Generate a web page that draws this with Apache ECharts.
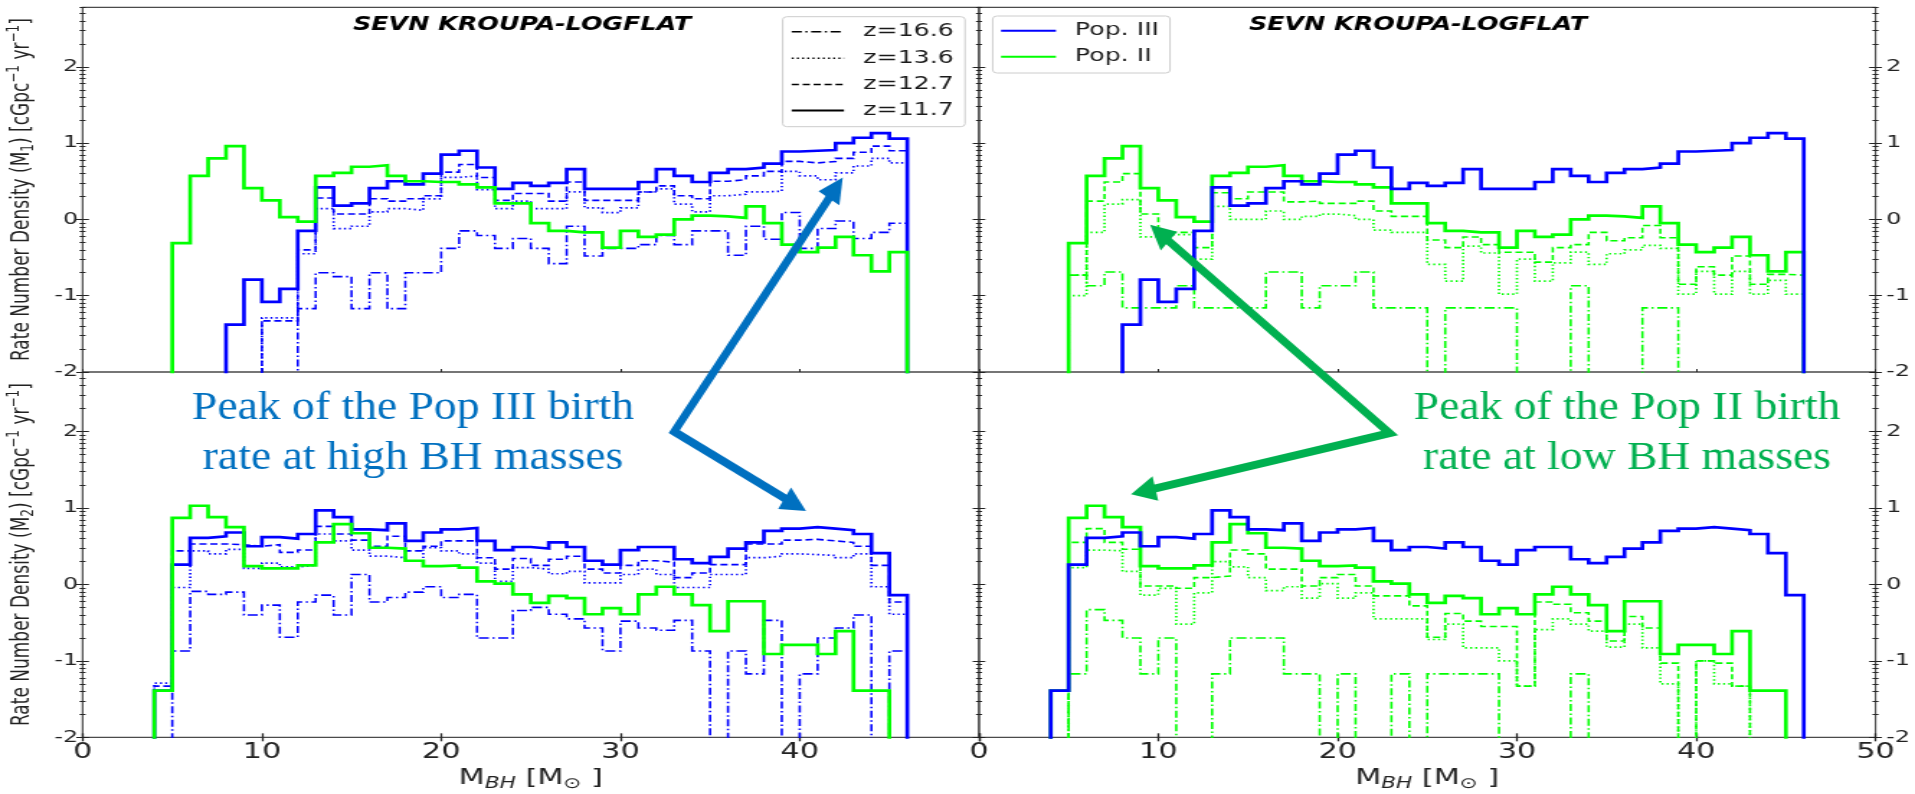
<!DOCTYPE html>
<html>
<head>
<meta charset="utf-8">
<title>SEVN KROUPA-LOGFLAT birth-rate histograms</title>
<script src="https://cdn.jsdelivr.net/npm/echarts@6.0.0/dist/echarts.min.js"></script>
<style>
  html, body { margin: 0; padding: 0; background: #fff; overflow: hidden; }
  #chart { width: 1330px; height: 794px; transform-origin: 0 0; }
</style>
</head>
<body>
<div id="chart"></div>
<script>
// ---------------------------------------------------------------------------
// Data: log10 rate number density per 1 Msun bin, bins [4,5) ... [45,46).
// null = empty bin (log10 of zero, the step drops below the axis floor).
// Rows of eight: bins 4-11, 12-19, 20-27, 28-35, 36-43, 44-45.
// ---------------------------------------------------------------------------
const BIN_EDGES = [4, 5, 6, 7, 8, 9, 10, 11, 12, 13, 14, 15, 16, 17, 18, 19, 20, 21, 22, 23, 24,
  25, 26, 27, 28, 29, 30, 31, 32, 33, 34, 35, 36, 37, 38, 39, 40, 41, 42, 43, 44, 45, 46];

const REDSHIFTS = ['z=16.6', 'z=13.6', 'z=12.7', 'z=11.7'];
const POPULATIONS = ['Pop. III', 'Pop. II'];
const PANEL_TITLE = 'SEVN KROUPA-LOGFLAT';
const X_LABELS_LEFT = [0, 10, 20, 30, 40];
const X_LABELS_RIGHT = [0, 10, 20, 30, 40, 50];
const Y_LABELS = [-2, -1, 0, 1, 2];
const Y_MIN = -2, Y_MAX = 2.78, X_MIN = 0, X_MAX = 50;

// Primary-mass (M1) distributions
const POP3_M1_Z166 = [
  null, null, null, null, null, null, null, null,
  -1.17, -0.70, -0.75, -1.17, -0.70, -1.17, -0.70, -0.70,
  -0.38, -0.15, -0.21, -0.38, -0.25, -0.38, -0.58, -0.09,
  -0.48, -0.38, -0.38, -0.33, -0.21, -0.33, -0.15, -0.15,
  -0.47, -0.09, -0.26, 0.09, -0.38, -0.12, -0.02, -0.25,
  -0.17, -0.05];
const POP3_M1_Z136 = [
  null, null, null, null, null, null, -1.29, -1.29,
  -0.45, 0.14, -0.12, -0.09, 0.10, 0.14, 0.12, 0.27,
  0.55, 0.57, 0.39, 0.14, 0.24, 0.14, 0.14, 0.36,
  0.15, 0.09, 0.15, 0.36, 0.40, 0.20, 0.10, 0.31,
  0.33, 0.36, 0.37, 0.63, 0.57, 0.52, 0.61, 0.70,
  0.80, 0.74];
const POP3_M1_Z127 = [
  null, null, null, null, null, null, -1.33, -1.33,
  -0.40, 0.28, 0.07, 0.07, 0.27, 0.24, 0.27, 0.31,
  0.62, 0.72, 0.55, 0.25, 0.34, 0.34, 0.24, 0.49,
  0.25, 0.25, 0.25, 0.36, 0.44, 0.31, 0.27, 0.50,
  0.52, 0.57, 0.63, 0.76, 0.74, 0.76, 0.80, 0.88,
  0.96, 0.90];
const POP3_M1_Z117 = [
  null, null, null, null, -1.38, -0.79, -1.08, -0.91,
  -0.15, 0.42, 0.18, 0.21, 0.41, 0.50, 0.46, 0.60,
  0.85, 0.90, 0.68, 0.40, 0.48, 0.44, 0.48, 0.66,
  0.40, 0.40, 0.40, 0.49, 0.66, 0.57, 0.49, 0.61,
  0.66, 0.68, 0.73, 0.89, 0.90, 0.91, 1.00, 1.07,
  1.13, 1.06];
const POP2_M1_Z166 = [
  null, -0.73, -0.87, -0.69, -1.16, -1.16, -1.16, -0.87,
  -1.16, -1.16, -1.16, -1.16, -0.69, -0.69, -1.16, -0.87,
  -0.87, -0.69, -1.16, -1.16, -1.16, null, -1.16, -1.16,
  -1.16, -1.16, null, null, null, -0.87, null, null,
  null, -1.16, -1.16, null, null, null, null, null,
  null, null];
const POP2_M1_Z136 = [
  null, -1.00, -0.17, 0.20, 0.26, -0.23, -0.20, -0.20,
  -0.52, 0.17, 0.00, 0.00, 0.11, 0.00, 0.04, 0.07,
  0.05, 0.00, -0.14, -0.17, -0.17, -0.59, -0.81, -0.35,
  -0.44, -0.98, -0.52, -0.81, -0.57, -0.43, -0.59, -0.45,
  -0.40, -0.34, -0.38, -0.98, -0.68, -0.98, -0.68, -0.98,
  -0.80, -0.98];
const POP2_M1_Z127 = [
  null, -0.73, 0.24, 0.49, 0.60, 0.07, -0.17, -0.17,
  -0.37, 0.35, 0.27, 0.36, 0.36, 0.23, 0.24, 0.21,
  0.21, 0.24, 0.11, 0.04, 0.04, -0.27, -0.37, -0.23,
  -0.33, -0.43, -0.43, -0.56, -0.37, -0.33, -0.17, -0.28,
  -0.24, -0.08, -0.24, -0.85, -0.62, -0.73, -0.48, -0.85,
  -0.72, -0.73];
const POP2_M1_Z117 = [
  null, -0.31, 0.57, 0.80, 0.96, 0.41, 0.25, 0.03,
  -0.03, 0.57, 0.61, 0.69, 0.71, 0.57, 0.50, 0.49,
  0.49, 0.46, 0.42, 0.21, 0.21, -0.05, -0.15, -0.17,
  -0.17, -0.37, -0.15, -0.23, -0.20, 0.00, 0.05, 0.04,
  0.02, 0.17, -0.05, -0.33, -0.43, -0.37, -0.23, -0.47,
  -0.68, -0.43];

// Secondary-mass (M2) distributions
const POP3_M2_Z166 = [
  null, -0.87, -0.09, -0.13, -0.10, -0.40, -0.27, -0.69,
  -0.23, -0.14, -0.40, 0.13, -0.23, -0.17, -0.10, -0.03,
  -0.17, -0.13, -0.70, -0.70, -0.34, -0.30, -0.39, -0.45,
  -0.57, -0.87, -0.48, -0.57, -0.60, -0.47, -0.87, null,
  -0.87, -1.17, -0.47, null, -1.17, -0.70, -0.57, -0.40,
  null, -0.87];
const POP3_M2_Z136 = [
  -1.29, -0.04, 0.44, 0.40, 0.46, 0.21, 0.28, 0.23,
  0.25, 0.66, 0.57, 0.45, 0.37, 0.35, 0.31, 0.48,
  0.44, 0.40, 0.28, 0.04, 0.22, 0.20, 0.14, 0.17,
  0.02, 0.02, 0.13, 0.20, 0.13, -0.04, -0.04, 0.13,
  0.13, 0.35, 0.37, 0.40, 0.39, 0.38, 0.35, 0.40,
  -0.03, -0.39];
const POP3_M2_Z127 = [
  -1.33, 0.44, 0.53, 0.53, 0.52, 0.50, 0.52, 0.42,
  0.45, 0.76, 0.66, 0.58, 0.50, 0.63, 0.44, 0.50,
  0.57, 0.57, 0.35, 0.20, 0.34, 0.25, 0.33, 0.37,
  0.20, 0.15, 0.25, 0.31, 0.29, 0.09, 0.15, 0.26,
  0.26, 0.53, 0.53, 0.58, 0.59, 0.57, 0.55, 0.50,
  0.25, -0.23];
const POP3_M2_Z117 = [
  -1.39, 0.26, 0.61, 0.63, 0.68, 0.50, 0.62, 0.60,
  0.66, 0.97, 0.88, 0.72, 0.71, 0.80, 0.57, 0.68,
  0.72, 0.74, 0.57, 0.45, 0.49, 0.47, 0.55, 0.49,
  0.31, 0.26, 0.45, 0.49, 0.49, 0.33, 0.28, 0.36,
  0.47, 0.55, 0.70, 0.73, 0.75, 0.73, 0.71, 0.66,
  0.41, -0.14];
const POP2_M2_Z166 = [
  null, -1.17, -0.33, -0.47, -0.70, -1.17, -0.70, null,
  null, -1.17, -0.70, -0.70, -0.70, -1.17, -1.17, null,
  -1.17, null, null, -1.17, null, -1.17, -1.17, -1.17,
  -1.17, null, null, null, null, -1.17, null, null,
  null, null, null, null, null, null, null, null,
  null, null];
const POP2_M2_Z136 = [
  null, 0.22, 0.45, 0.44, 0.17, -0.14, -0.05, -0.52,
  -0.11, 0.30, 0.23, 0.09, -0.08, -0.03, -0.18, 0.01,
  -0.18, -0.11, -0.45, -0.45, -0.45, -0.72, -0.52, -0.83,
  -0.83, -1.00, -1.33, -0.59, -0.45, -0.52, -0.61, -0.82,
  -0.52, -0.83, -1.30, null, -1.00, -1.30, -1.33, null,
  null, null];
const POP2_M2_Z127 = [
  null, 0.55, 0.73, 0.55, 0.46, -0.02, -0.02, -0.05,
  0.09, 0.11, 0.45, 0.40, 0.20, 0.20, -0.02, 0.09,
  0.13, -0.02, -0.15, -0.15, -0.28, -0.69, -0.38, -0.48,
  -0.55, -0.55, -1.33, -0.23, -0.26, -0.37, -0.48, -0.74,
  -0.42, -0.57, -1.03, null, -1.00, -1.03, -1.33, null,
  null, null];
const POP2_M2_Z117 = [
  -1.39, 0.87, 1.03, 0.88, 0.75, 0.24, 0.21, 0.21,
  0.25, 0.55, 0.79, 0.67, 0.48, 0.47, 0.31, 0.24,
  0.25, 0.22, 0.04, 0.01, -0.13, -0.24, -0.15, -0.18,
  -0.39, -0.31, -0.39, -0.13, -0.03, -0.13, -0.27, -0.61,
  -0.22, -0.22, -0.91, -0.79, -0.79, -0.91, -0.61, -1.39,
  -1.39, null];

// Annotation anchors in data coordinates (panel index, [mass, log rate])
const ARROW_POP3 = { elbow: { panel: 2, at: [33.0, 2.0] },
  tips: [{ panel: 0, at: [42.4, 0.55] }, { panel: 2, at: [40.35, 0.96] }] };
const ARROW_POP2 = { elbow: { panel: 3, at: [22.9, 1.98] },
  tips: [{ panel: 1, at: [9.54, -0.07] }, { panel: 3, at: [8.48, 1.18] }] };
const NOTE_POP3 = ['Peak of the Pop III birth', 'rate at high BH masses'];
const NOTE_POP2 = ['Peak of the Pop II birth', 'rate at low BH masses'];

// ---------------------------------------------------------------------------
// Layout and style
// ---------------------------------------------------------------------------
const CANVAS_W = 1330, CANVAS_H = 794;
const S = 1915 / CANVAS_W;              // the figure is drawn horizontally stretched
const px = v => v / S;                  // page x -> canvas x
document.getElementById('chart').style.transform = 'scaleX(' + S + ')';

const PANEL_X = [82.6, 979, 1875.5];    // page pixels
const PANEL_Y = [7.3, 372, 737.3];
const FONT = 'DejaVu Sans';
const INK = '#222222';
const SPINE = '#4a4a4a';
const BLUE = '#0000ff', LIME = '#00ff00';
const NOTE_BLUE = '#0070C0', NOTE_GREEN = '#00B050';

const Z_STYLE = {
  'z=16.6': { type: [7, 2.5, 1.5, 2.5], width: 1.6 },
  'z=13.6': { type: [1.4, 2.2], width: 1.7 },
  'z=12.7': { type: [5, 2.6], width: 1.6 },
  'z=11.7': { type: 'solid', width: 2.7 }
};

// y ticks: integer majors plus logarithmic minors
const MINOR_Y = [];
for (let n = -2; n <= 2; n++) {
  for (let k = 2; k <= 9; k++) {
    const v = n + Math.log10(k);
    if (v < Y_MAX) MINOR_Y.push(+v.toFixed(4));
  }
}

const grids = [];
for (let r = 0; r < 2; r++) {
  for (let c = 0; c < 2; c++) {
    grids.push({
      left: px(PANEL_X[c]), width: px(PANEL_X[c + 1]) - px(PANEL_X[c]),
      top: PANEL_Y[r], height: PANEL_Y[r + 1] - PANEL_Y[r],
      show: true, borderColor: SPINE, borderWidth: 1.2, backgroundColor: 'transparent',
      containLabel: false, outerBoundsMode: 'none'
    });
  }
}

const xAxes = [], yAxes = [], X_MAIN = [], Y_MAIN = [];
const tickStyle = (values, inside, length) => ({
  show: true, inside, length, customValues: values, lineStyle: { color: INK, width: 1 }
});
function addY(g, position, extra) {
  yAxes.push(Object.assign({
    type: 'value', gridIndex: g, position, min: Y_MIN, max: Y_MAX, interval: 1,
    axisLine: { show: false, onZero: false }, splitLine: { show: false },
    axisLabel: { show: false }, axisTick: { show: false }
  }, extra));
  return yAxes.length - 1;
}
function addX(g, extra) {
  xAxes.push(Object.assign({
    type: 'value', gridIndex: g, position: 'bottom', min: X_MIN, max: X_MAX, interval: 10,
    axisLine: { show: false, onZero: false }, splitLine: { show: false },
    axisLabel: { show: false }, axisTick: { show: false }
  }, extra));
  return xAxes.length - 1;
}

const yName = n => '{t|Rate Number Density (M}{sub|' + n + '}{t|) [cGpc}{sup|\u22121}{t| yr}{sup|\u22121}{t|]}';
const yNameStyle = {
  color: INK, fontFamily: FONT, fontSize: 17,
  rich: {
    t: { fontFamily: FONT, fontSize: 17, lineHeight: 22, color: INK },
    sub: { fontFamily: FONT, fontSize: 12, lineHeight: 12, verticalAlign: 'bottom', color: INK },
    sup: { fontFamily: FONT, fontSize: 12, lineHeight: 12, verticalAlign: 'top', color: INK }
  }
};
const xName = '{m|M}{s|BH}{m| [M}{o|\u2299}{m| ]}';
const xNameStyle = {
  color: INK, fontFamily: FONT, fontSize: 21,
  rich: {
    m: { fontFamily: FONT, fontSize: 21, lineHeight: 26, color: INK },
    s: { fontFamily: FONT, fontSize: 15, fontStyle: 'italic', lineHeight: 14, verticalAlign: 'bottom', color: INK },
    o: { fontFamily: FONT, fontSize: 15, lineHeight: 14, verticalAlign: 'bottom', color: INK }
  }
};

for (let g = 0; g < 4; g++) {
  const leftPanel = g % 2 === 0, bottomRow = g >= 2;
  const outer = leftPanel ? 'left' : 'right';
  const inner = leftPanel ? 'right' : 'left';

  const main = {
    axisLabel: {
      show: true, customValues: Y_LABELS, margin: leftPanel ? 3.2 : 7.4,
      fontFamily: FONT, fontSize: 16.5, color: INK
    },
    axisTick: tickStyle(Y_LABELS, false, 4.4)
  };
  if (leftPanel) {
    Object.assign(main, {
      name: yName(bottomRow ? 2 : 1), nameLocation: 'middle', nameRotate: 90,
      nameGap: 31, nameMoveOverlap: false, nameTextStyle: yNameStyle
    });
  }
  Y_MAIN.push(addY(g, outer, main));
  addY(g, outer, { axisTick: tickStyle(Y_LABELS, true, 4.4) });
  addY(g, outer, { axisTick: tickStyle(MINOR_Y, false, 2.1) });
  addY(g, outer, { axisTick: tickStyle(MINOR_Y, true, 2.1) });
  addY(g, inner, { axisTick: tickStyle(Y_LABELS, true, 4.4) });
  addY(g, inner, { axisTick: tickStyle(MINOR_Y, true, 2.1) });

  if (!bottomRow) {
    X_MAIN.push(addX(g, { axisTick: { show: true, inside: true, length: 3, lineStyle: { color: INK, width: 1 } } }));
  } else {
    X_MAIN.push(addX(g, {
      axisTick: { show: true, inside: false, length: 4, lineStyle: { color: INK, width: 1.3 } },
      axisLabel: {
        show: true, customValues: leftPanel ? X_LABELS_LEFT : X_LABELS_RIGHT,
        margin: 5, fontFamily: FONT, fontSize: 21, color: INK
      },
      name: xName, nameLocation: 'middle', nameGap: 28, nameMoveOverlap: false,
      nameTextStyle: xNameStyle
    }));
    addX(g, { axisTick: { show: true, inside: true, length: 4, lineStyle: { color: INK, width: 1.3 } } });
  }
}

// Histogram outline in step form through the bin edges
const FLOOR = -10;
function stepPoints(vals) {
  const pts = [[BIN_EDGES[0], FLOOR]];
  vals.forEach((v, i) => {
    const y = v == null ? FLOOR : v;
    pts.push([BIN_EDGES[i], y], [BIN_EDGES[i + 1], y]);
  });
  pts.push([BIN_EDGES[BIN_EDGES.length - 1], FLOOR]);
  return pts;
}
function stepSeries(id, g, vals, color, z) {
  const st = Z_STYLE[z];
  return {
    type: 'line', id, name: id, xAxisIndex: X_MAIN[g], yAxisIndex: Y_MAIN[g],
    data: stepPoints(vals), symbol: 'none', showSymbol: false, silent: true, clip: true,
    lineStyle: { color, width: st.width, type: st.type, cap: 'butt', join: 'miter' },
    emphasis: { disabled: true }
  };
}

const PANELS = [
  { g: 0, main: [POP3_M1_Z166, POP3_M1_Z136, POP3_M1_Z127, POP3_M1_Z117], color: BLUE, over: POP2_M1_Z117, overColor: LIME, tag: 'Pop III M1' },
  { g: 1, main: [POP2_M1_Z166, POP2_M1_Z136, POP2_M1_Z127, POP2_M1_Z117], color: LIME, over: POP3_M1_Z117, overColor: BLUE, tag: 'Pop II M1' },
  { g: 2, main: [POP3_M2_Z166, POP3_M2_Z136, POP3_M2_Z127, POP3_M2_Z117], color: BLUE, over: POP2_M2_Z117, overColor: LIME, tag: 'Pop III M2' },
  { g: 3, main: [POP2_M2_Z166, POP2_M2_Z136, POP2_M2_Z127, POP2_M2_Z117], color: LIME, over: POP3_M2_Z117, overColor: BLUE, tag: 'Pop II M2' }
];

const series = [];
PANELS.forEach(p => {
  p.main.forEach((vals, i) => series.push(stepSeries(p.tag + ' ' + REDSHIFTS[i], p.g, vals, p.color, REDSHIFTS[i])));
  series.push(stepSeries(p.tag + ' overlay z=11.7', p.g, p.over, p.overColor, 'z=11.7'));
});

const option = {
  animation: false,
  textStyle: { fontFamily: FONT },
  grid: grids,
  xAxis: xAxes,
  yAxis: yAxes,
  series
};

const chart = echarts.init(document.getElementById('chart'), null, { width: CANVAS_W, height: CANVAS_H });
chart.setOption(option);

// ---------------------------------------------------------------------------
// Legends, panel titles, call-out text and arrows (geometry in page pixels)
// ---------------------------------------------------------------------------
function legendElements(box, handle, textX, rows) {
  const els = [{
    type: 'rect', silent: true, z: 90,
    shape: { x: px(box[0]), y: box[1], width: px(box[2]) - px(box[0]), height: box[3] - box[1], r: 3 },
    style: { fill: 'rgba(255,255,255,0.8)', stroke: '#cccccc', lineWidth: 1 }
  }];
  rows.forEach(row => {
    els.push({
      type: 'line', silent: true, z: 91,
      shape: { x1: px(handle[0]), y1: row.y, x2: px(handle[1]), y2: row.y },
      style: { stroke: row.color, lineWidth: row.width, lineDash: row.dash, lineCap: 'butt' }
    });
    els.push({
      type: 'text', silent: true, z: 91, x: px(textX), y: row.y,
      style: {
        text: row.label, fontFamily: FONT, fontSize: 17.5, fill: '#1a1a1a',
        align: 'left', verticalAlign: 'middle', textAlign: 'left', textVerticalAlign: 'middle'
      }
    });
  });
  return els;
}
const REDSHIFT_ROWS_Y = [31.7, 58.3, 84.5, 110.5];
const redshiftLegend = legendElements([782.7, 16.7, 965, 126.7], [791.7, 844], 863.3,
  REDSHIFTS.map((z, i) => ({
    label: z, y: REDSHIFT_ROWS_Y[i], color: '#000',
    width: z === 'z=11.7' ? 2 : 1.5,
    dash: Array.isArray(Z_STYLE[z].type) ? Z_STYLE[z].type : null
  })));
const popLegend = legendElements([992.7, 16, 1170, 73], [1001, 1056], 1075,
  POPULATIONS.map((p, i) => ({ label: p, y: [30.7, 56.7][i], color: i === 0 ? BLUE : LIME, width: 2, dash: null })));

function toPage(panel, at) {
  const p = chart.convertToPixel({ xAxisIndex: X_MAIN[panel], yAxisIndex: Y_MAIN[panel] }, at);
  return [p[0] * S, p[1]];
}
const unit = (a, b) => { const dx = b[0] - a[0], dy = b[1] - a[1], l = Math.hypot(dx, dy); return [dx / l, dy / l]; };
const add = (p, d, k) => [p[0] + d[0] * k, p[1] + d[1] * k];
function intersect(p, d, q, e) {
  const den = d[0] * e[1] - d[1] * e[0];
  const t = ((q[0] - p[0]) * e[1] - (q[1] - p[1]) * e[0]) / den;
  return add(p, d, t);
}
const SHAFT = 8, HEAD_LEN = 25, HEAD_HALF = 12.5;
function arrowElements(spec, color) {
  const E = toPage(spec.elbow.panel, spec.elbow.at);
  const T0 = toPage(spec.tips[0].panel, spec.tips[0].at);
  const T1 = toPage(spec.tips[1].panel, spec.tips[1].at);
  const d0 = unit(E, T0), d1 = unit(E, T1);
  const A = add(T0, d0, -(HEAD_LEN - 3)), B = add(T1, d1, -(HEAD_LEN - 3));
  const u = unit(A, E), v = unit(E, B);
  const nu = [-u[1], u[0]], nv = [-v[1], v[0]];
  const side = s => {
    const p = add(A, nu, s * SHAFT / 2), q = add(E, nv, s * SHAFT / 2);
    return [p, intersect(p, u, q, v), add(B, nv, s * SHAFT / 2)];
  };
  const L = side(1), R = side(-1);
  const head = (T, d) => {
    const n = [-d[1], d[0]], c = add(T, d, -HEAD_LEN);
    return [T, add(c, n, HEAD_HALF), add(c, n, -HEAD_HALF)];
  };
  return [[L[0], L[1], L[2], R[2], R[1], R[0]], head(T0, d0), head(T1, d1)].map(poly => ({
    type: 'polygon', silent: true, z: 100,
    shape: { points: poly.map(p => [p[0] / S, p[1]]) },
    style: { fill: color }
  }));
}

const measure = document.createElement('canvas').getContext('2d');

const NOTE_FONT_SIZE = 39;
const NOTE_FAMILY = 'Liberation Serif';
measure.font = NOTE_FONT_SIZE + 'px "' + NOTE_FAMILY + '"';
const noteScale = 442 / measure.measureText(NOTE_POP3[0]).width;   // page width of the first line
function noteElements(lines, centerX, color) {
  const baselines = [422, 472];
  return lines.map((t, i) => ({
    type: 'text', silent: true, z: 100,
    x: px(centerX), y: baselines[i] - 0.3375 * NOTE_FONT_SIZE,
    scaleX: noteScale / S,
    style: {
      text: t, fontFamily: NOTE_FAMILY, fontSize: NOTE_FONT_SIZE, fill: color,
      align: 'center', verticalAlign: 'middle', textAlign: 'center', textVerticalAlign: 'middle'
    }
  }));
}

const TITLE_SIZE = 19;
measure.font = 'italic bold ' + TITLE_SIZE + 'px "' + FONT + '"';
const titleScale = 338 / measure.measureText(PANEL_TITLE).width;    // page width of the title
function titleElement(centerX) {
  return {
    type: 'text', silent: true, z: 100, x: px(centerX), y: 24.6,
    scaleX: titleScale / S,
    style: {
      text: PANEL_TITLE, fontFamily: FONT, fontSize: TITLE_SIZE, fontStyle: 'italic', fontWeight: 'bold',
      fill: '#000',
      align: 'center', verticalAlign: 'middle', textAlign: 'center', textVerticalAlign: 'middle'
    }
  };
}

chart.setOption({
  graphic: {
    elements: [
      titleElement(522), titleElement(1418),
      ...redshiftLegend, ...popLegend,
      ...noteElements(NOTE_POP3, 413, NOTE_BLUE),
      ...noteElements(NOTE_POP2, 1627, NOTE_GREEN),
      ...arrowElements(ARROW_POP3, NOTE_BLUE),
      ...arrowElements(ARROW_POP2, NOTE_GREEN)
    ]
  }
});
</script>
</body>
</html>
